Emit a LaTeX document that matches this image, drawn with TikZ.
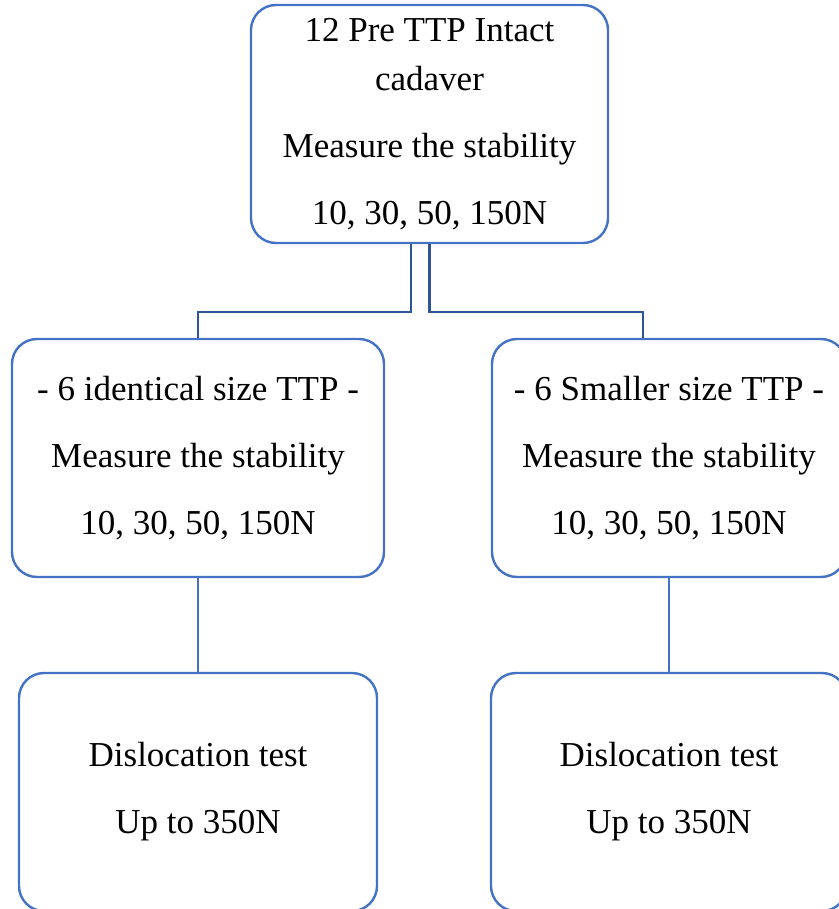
\documentclass[tikz,border=0pt]{standalone}
\usepackage{fontspec}
\setmainfont{Liberation Serif}
\definecolor{boxblue}{HTML}{4472C4}
\definecolor{linkblue}{HTML}{2F5597}
\tikzset{
  stagebox/.style={draw=boxblue, line width=2.4pt, rounded corners=25pt,
    inner sep=0pt, align=center, minimum height=238pt,
    font=\fontsize{35}{67}\selectfont},
  treelink/.style={draw=linkblue, line width=2.5pt},
  droplink/.style={draw=boxblue, line width=2.4pt},
}
\begin{document}
\begin{tikzpicture}[x=1pt,y=-1pt]
  \useasboundingbox (0,0) rectangle (838,909);

  \node[stagebox, minimum width=357pt] (top) at (429.5,124)
    {12 Pre TTP Intact\\[-18pt]cadaver\\Measure the stability\\10, 30, 50, 150N};

  \node[stagebox, minimum width=372pt] (midL) at (198,458)
    {- 6 identical size TTP -\\Measure the stability\\10, 30, 50, 150N};
  \node[stagebox, minimum width=354pt] (midR) at (669,458)
    {- 6 Smaller size TTP -\\Measure the stability\\10, 30, 50, 150N};

  \node[stagebox, minimum width=358pt] (botL) at (198,792)
    {Dislocation test\\Up to 350N};
  \node[stagebox, minimum width=356pt] (botR) at (669,792)
    {Dislocation test\\Up to 350N};

  % split from the top box into the two groups
  \draw[treelink] ([xshift=-18.5pt]top.south) -- ++(0,68) -| (midL.north);
  \draw[treelink] (top.south) -- ++(0,68) -| ([xshift=-26pt]midR.north);

  % each group continues to its dislocation test
  \draw[droplink] (midL.south) -- (botL.north);
  \draw[droplink] (midR.south) -- (botR.north);
\end{tikzpicture}
\end{document}
